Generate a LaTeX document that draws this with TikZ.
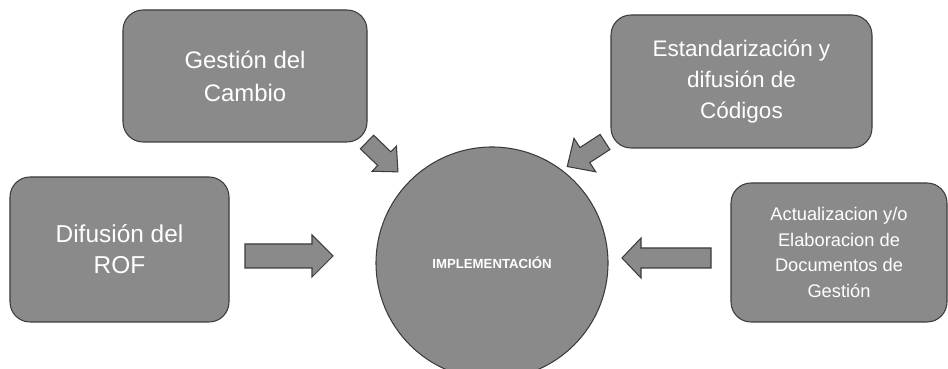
\documentclass[tikz,border=0pt]{standalone}
\usepackage{fontspec}
\setmainfont{Liberation Sans}
\definecolor{gris}{RGB}{138,138,138}
\definecolor{borde}{RGB}{60,60,60}
\tikzset{
  caja/.style={draw=borde, fill=gris, line width=0.6pt, rounded corners=4mm, inner sep=0pt, text=white, align=center},
  circulo/.style={circle, draw=borde, fill=gris, line width=0.6pt, inner sep=0pt, text=white},
  flecha/.style={draw=borde, fill=gris, line width=0.6pt, line join=miter}
}
\begin{document}
\begin{tikzpicture}[x=0.2mm,y=0.2mm]
        \useasboundingbox (0,0) rectangle (948,369);
        % cajas
        \node[caja, minimum width=48.8mm, minimum height=26.4mm, font=\fontsize{13.6}{18.7}\selectfont] (cambio) at (245,293) {Gestión del\\Cambio};
        \node[caja, minimum width=43.8mm, minimum height=29mm, font=\fontsize{13.9}{17.6}\selectfont] (rof) at (119.5,119.5) {Difusión del\\ROF};
        \node[caja, minimum width=52.2mm, minimum height=26.6mm, font=\fontsize{12.8}{17.6}\selectfont] (codigos) at (741.5,287.5) {Estandarización y\\difusión de\\Códigos};
        \node[caja, minimum width=43.2mm, minimum height=27.8mm, font=\fontsize{10.4}{14.5}\selectfont] (docs) at (839,116.5) {Actualizacion y/o\\Elaboracion de\\Documentos de\\Gestión};
        \node[circulo, minimum size=46.4mm, font=\fontsize{7.5}{9}\selectfont\bfseries] (impl) at (492,106) {IMPLEMENTACIÓN};
        % flechas
        \coordinate (fr) at (245,113);
        \coordinate (fd) at (711,111);
        \coordinate (fg) at (367,227);
        \coordinate (fe) at (605,227);
        \draw[flecha, shift={(fr)}] (0,-12) -- (67,-12) -- (67,-21) -- (88,0) -- (67,21) -- (67,12) -- (0,12) -- cycle;
        \draw[flecha, shift={(fd)}, rotate=180] (0,-10) -- (70,-10) -- (70,-20) -- (89,0) -- (70,20) -- (70,10) -- (0,10) -- cycle;
        \draw[flecha, shift={(fg)}, rotate=-44] (0,-9.5) -- (24,-9.5) -- (24,-17.5) -- (43,0) -- (24,17.5) -- (24,9.5) -- (0,9.5) -- cycle;
        \draw[flecha, shift={(fe)}, rotate=213] (0,-9) -- (24,-9) -- (24,-20) -- (45,0) -- (24,20) -- (24,9) -- (0,9) -- cycle;
      \end{tikzpicture}
\end{document}
